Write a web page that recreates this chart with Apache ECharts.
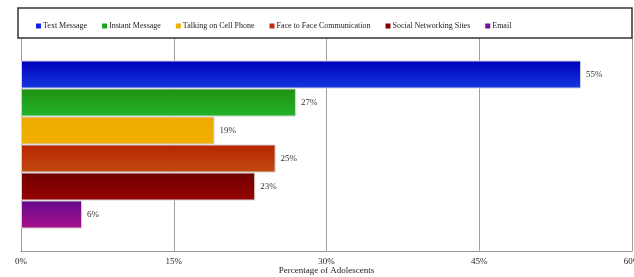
<!DOCTYPE html>
<html>
<head>
<meta charset="utf-8">
<script src="https://cdn.jsdelivr.net/npm/echarts@6/dist/echarts.min.js"></script>
<style>
  html, body { margin: 0; padding: 0; background: #fff; }
  #chart { width: 634px; height: 277px; }
</style>
</head>
<body>
<div id="chart"></div>
<script>
// 数据
var activities = ['Text Message', 'Instant Message', 'Talking on Cell Phone',
    'Face to Face Communication', 'Social Networking Sites', 'Email'];
var percents = [55, 27, 19, 25, 23, 6];

// 每个系列的渐变色（上 -> 下）
var colorsTop = ['#0000bc', '#1f8f12', '#eea800', '#b52400', '#720000', '#640a8c'];
var colorsBottom = ['#1638e0', '#22b42a', '#f2b200', '#c44a10', '#950404', '#a8108a'];
var legendColors = ['#1020e0', '#20a020', '#f0b000', '#c03010', '#800000', '#7010a0'];

var chart = echarts.init(document.getElementById('chart'));
var font = '"Liberation Serif", "Times New Roman", serif';

var series = activities.map(function (name, i) {
    return {
        name: name,
        type: 'bar',
        barWidth: 28,
        barGap: '0%',
        data: [percents[i]],
        itemStyle: {
            color: new echarts.graphic.LinearGradient(0, 0, 0, 1, [
                { offset: 0, color: colorsTop[i] },
                { offset: 1, color: colorsBottom[i] }
            ]),
            borderColor: '#d4d4d4',
            borderWidth: 1
        },
        label: {
            show: true,
            position: 'right',
            distance: 5,
            formatter: '{c}%',
            fontFamily: font,
            fontSize: 9,
            color: '#333'
        }
    };
});

var legendData = activities.map(function (name, i) {
    return { name: name, itemStyle: { color: legendColors[i], borderWidth: 0 } };
});

var option = {
    animation: false,
    backgroundColor: '#fff',
    graphic: [{
        type: 'rect',
        shape: { x: 18, y: 8, width: 614, height: 30 },
        style: { fill: 'none', stroke: '#333', lineWidth: 1.5 },
        z: 10
    }],
    legend: {
        left: 31,
        top: 17,
        width: 590,
        itemWidth: 5,
        itemHeight: 5,
        itemGap: 15,
        icon: 'rect',
        textStyle: { fontFamily: font, fontSize: 8, color: '#222', padding: [0, 0, 0, -3] },
        data: legendData
    },
    grid: { left: 21, right: 2, top: 38, bottom: 26, outerBoundsMode: 'none' },
    xAxis: {
        type: 'value',
        min: 0,
        max: 60,
        interval: 15,
        name: 'Percentage of Adolescents',
        nameLocation: 'middle',
        nameGap: 15,
        nameMoveOverlap: false,
        nameTextStyle: { fontFamily: font, fontSize: 9, color: '#222' },
        axisLine: { show: true, lineStyle: { color: '#999' } },
        axisTick: { show: false },
        axisLabel: {
            formatter: '{value}%',
            fontFamily: font,
            fontSize: 9,
            color: '#222',
            margin: 6
        },
        splitLine: { show: true, lineStyle: { color: '#a0a0a0', width: 1 } }
    },
    yAxis: {
        type: 'category',
        inverse: true,
        data: [''],
        axisLine: { show: true, lineStyle: { color: '#999' } },
        axisTick: { show: false },
        axisLabel: { show: false }
    },
    series: series
};

chart.setOption(option);
</script>
</body>
</html>
